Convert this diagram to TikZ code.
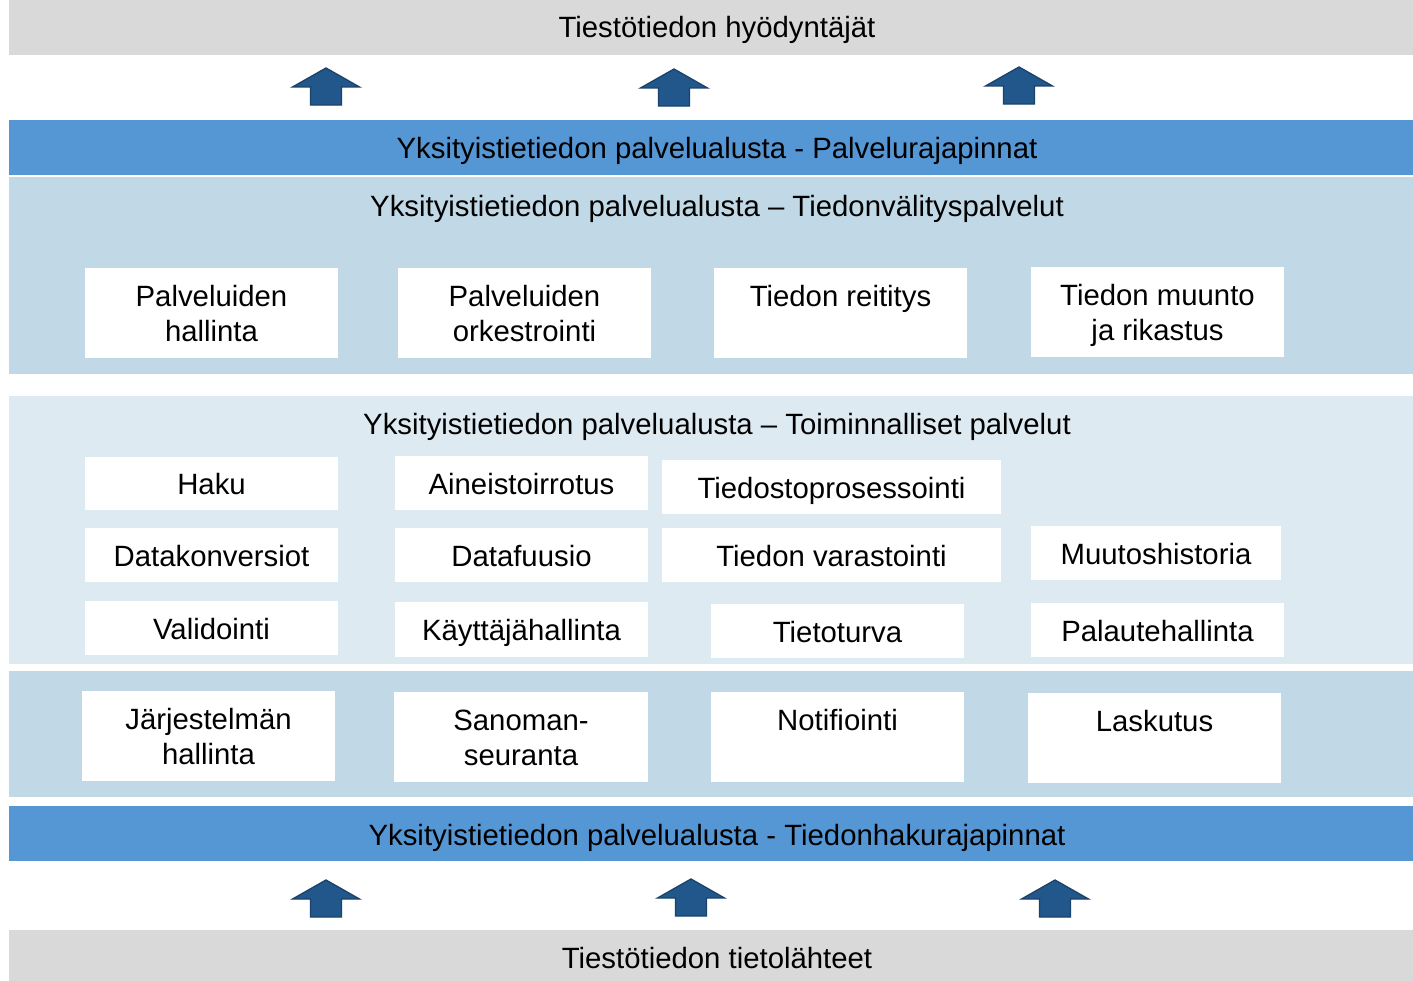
\documentclass[tikz,border=0pt]{standalone}
\usepackage{fontspec}
\setmainfont{Liberation Sans}
\definecolor{greyband}{HTML}{D9D9D9}
\definecolor{blueband}{HTML}{5596D5}
\definecolor{lightband}{HTML}{C1D9E6}
\definecolor{paleband}{HTML}{DEEAF1}
\definecolor{arrowfill}{HTML}{22578C}
\definecolor{arrowline}{HTML}{1A426B}
\newcommand\bstrut{\rule[-4.9pt]{0pt}{26.3pt}}
\newcommand\bx[6]{\node[box, minimum width={(#4-#2)*0.75pt}, minimum height={(#5-#3)*0.75pt}] (#1) at ({(#2+#4)/2},{(#3+#5)/2}) {\bstrut #6};}
\newcommand\uparr[2]{\filldraw[uparrow] (#1,#2) -- ++(33.5,19) -- ++(-18,0) -- ++(0,18) -- ++(-31,0) -- ++(0,-18) -- ++(-18,0) -- cycle;}
\begin{document}
\begin{tikzpicture}[x=0.75pt,y=-0.75pt,
  every node/.style={font=\fontsize{22}{26.4}\selectfont, text=black},
  box/.style={fill=white, inner sep=0pt, outer sep=0pt, align=center},
  title/.style={anchor=base, inner sep=0pt},
  uparrow/.style={fill=arrowfill, draw=arrowline, line width=1pt, line join=miter}]
\useasboundingbox (0,0) rectangle (1413,981);
% bands
\fill[greyband] (9,0) rectangle (1413,55);
\fill[blueband] (9,120) rectangle (1413,175);
\fill[lightband] (9,177) rectangle (1413,374);
\fill[paleband] (9,396) rectangle (1413,664);
\fill[lightband] (9,671) rectangle (1413,797);
\fill[blueband] (9,806) rectangle (1413,861);
\fill[greyband] (9,930) rectangle (1413,981);
% titles
\node[title] (users) at (717,38) {Tiestötiedon hyödyntäjät};
\node[title] (api) at (717,158) {Yksityistietiedon palvelualusta - Palvelurajapinnat};
\node[title] (transfer) at (717,216) {Yksityistietiedon palvelualusta – Tiedonvälityspalvelut};
\node[title] (func) at (717,434) {Yksityistietiedon palvelualusta – Toiminnalliset palvelut};
\node[title] (fetch) at (717,845) {Yksityistietiedon palvelualusta - Tiedonhakurajapinnat};
\node[title] (sources) at (717,968) {Tiestötiedon tietolähteet};
% arrows
\uparr{326}{68}
\uparr{674}{69}
\uparr{1019}{67}
\uparr{326}{880}
\uparr{691}{879}
\uparr{1055}{880}
% transfer services
\bx{ph}{85}{268}{338}{358}{Palveluiden\\\bstrut hallinta}
\bx{po}{398}{268}{651}{358}{Palveluiden\\\bstrut orkestrointi}
\bx{tr}{714}{268}{967}{358}{Tiedon reititys\\\bstrut}
\bx{tm}{1031}{267}{1284}{357}{Tiedon muunto\\\bstrut ja rikastus}
% functional services
\bx{haku}{85}{457}{338}{510}{Haku}
\bx{air}{395}{456}{648}{510}{Aineistoirrotus}
\bx{tp}{662}{460}{1001}{514}{Tiedostoprosessointi}
\bx{dk}{85}{528}{338}{582}{Datakonversiot}
\bx{df}{395}{528}{648}{582}{Datafuusio}
\bx{tv}{662}{528}{1001}{582}{Tiedon varastointi}
\bx{mh}{1031}{526}{1281}{580}{Muutoshistoria}
\bx{val}{85}{601}{338}{655}{Validointi}
\bx{kh}{395}{602}{648}{657}{Käyttäjähallinta}
\bx{tt}{711}{604}{964}{658}{Tietoturva}
\bx{pa}{1031}{603}{1284}{657}{Palautehallinta}
% bottom row
\bx{jh}{82}{691}{335}{781}{Järjestelmän\\\bstrut hallinta}
\bx{ss}{394}{692}{648}{782}{Sanoman-\\\bstrut seuranta}
\bx{no}{711}{692}{964}{782}{Notifiointi\\\bstrut}
\bx{la}{1028}{693}{1281}{783}{Laskutus\\\bstrut}
\end{tikzpicture}
\end{document}
